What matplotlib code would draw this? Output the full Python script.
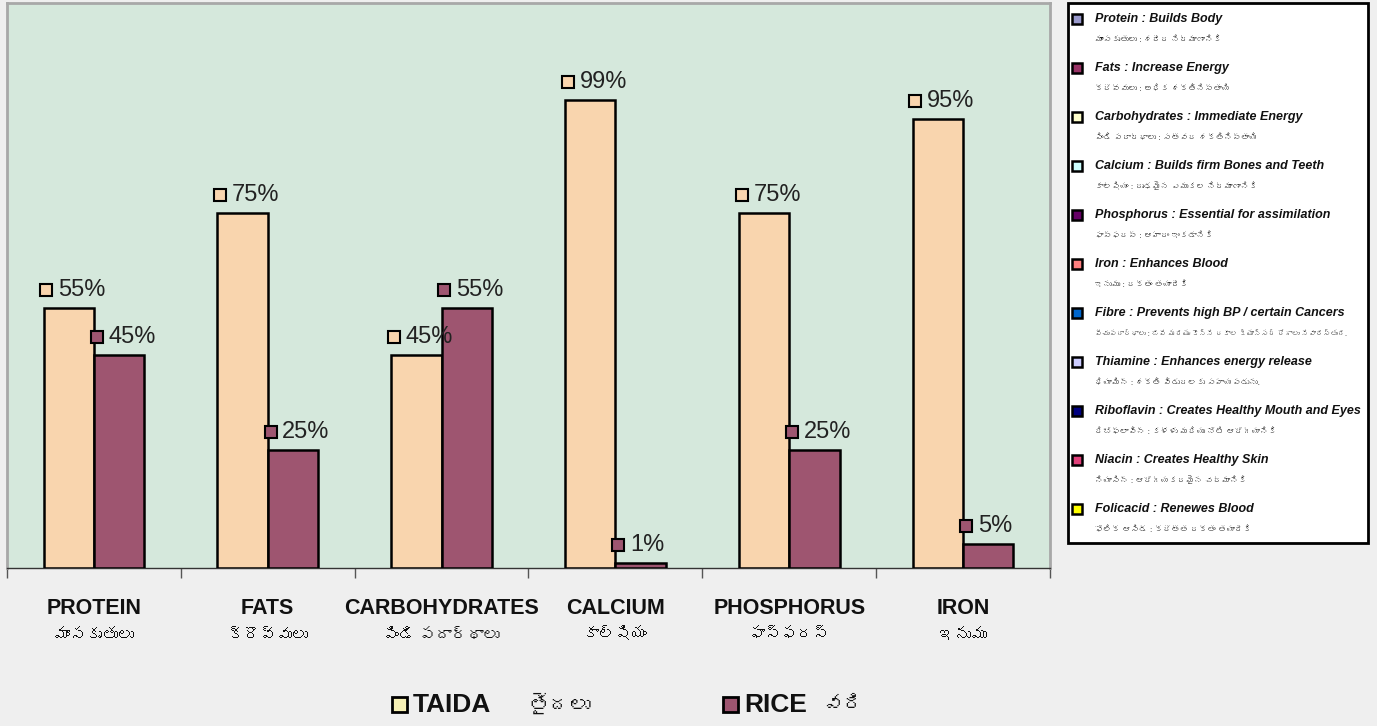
import matplotlib
matplotlib.use('Agg')
import matplotlib.pyplot as plt
from matplotlib.patches import Rectangle
from matplotlib import transforms, font_manager
from matplotlib.ft2font import FT2Font

# look for any installed family that can draw Telugu
te_family = None
for f in font_manager.fontManager.ttflist:
    try:
        if 0x0C2E in FT2Font(f.fname).get_charmap():
            te_family = f.name
            break
    except Exception:
        pass

fams = ['Liberation Sans', 'DejaVu Sans']
if te_family:
    fams.append(te_family)
plt.rcParams['font.family'] = fams

# data
categories = ['PROTEIN', 'FATS', 'CARBOHYDRATES', 'CALCIUM', 'PHOSPHORUS', 'IRON']
categories_te = ['మాంసకృతులు', 'క్రొవ్వులు', 'పిండి పదార్థాలు', 'కాల్షియం', 'ఫాస్ఫరస్', 'ఇనుము']
taida = [55, 75, 45, 99, 75, 95]
rice = [45, 25, 55, 1, 25, 5]

legend_names = ['Protein : Builds Body', 'Fats : Increase Energy',
                'Carbohydrates : Immediate Energy', 'Calcium : Builds firm Bones and Teeth',
                'Phosphorus : Essential for assimilation', 'Iron : Enhances Blood',
                'Fibre : Prevents high BP / certain Cancers', 'Thiamine : Enhances energy release',
                'Riboflavin : Creates Healthy Mouth and Eyes', 'Niacin : Creates Healthy Skin',
                'Folicacid : Renewes Blood']
legend_te = ['మాంసకృతులు : శరీర నిర్మాణానికి', 'క్రొవ్వులు : అధిక శక్తినిస్తాయి',
             'పిండి పదార్థాలు : సత్వర శక్తినిస్తాయి', 'కాల్షియం : దృఢమైన ఎముకల నిర్మాణానికి',
             'ఫాస్ఫరస్ : ఆహారం ఇంకడానికి', 'ఇనుము : రక్తం తయారీకి',
             'పీచుపదార్థాలు : బిపి మరియు కొన్ని రకాల క్యాన్సర్ రోగాలు నివారిస్తుంది.',
             'థియామిన్ : శక్తి విడుదలకు సహాయపడును.', 'రిబోఫ్లావిన్ : కళ్ళు మరియు నోటి ఆరోగ్యానికి',
             'నియాసిన్ : ఆరోగ్యకరమైన చర్మానికి', 'ఫోలిక్ ఆసిడ్ : క్రొత్త రక్తం తయారీకి']
legend_colors = ['#9999cc', '#993366', '#ffffcc', '#ccffff', '#660066', '#ff8080',
                 '#0066cc', '#ccccff', '#000080', '#e0407a', '#ffff00']

series_names = ['TAIDA', 'RICE']
series_te = ['తైదలు', 'వరి']
taida_color = '#f9d5ae'
rice_color = '#9e5570'

W, H = 1377, 726
fig = plt.figure(figsize=(W / 100, H / 100), dpi=100, facecolor='#efefef')

# main bar axes
ax = fig.add_axes([7 / W, 1 - 568 / H, (1050 - 7) / W, (568 - 3) / H])
ax.set_facecolor('#d5e8dc')
x = list(range(len(categories)))
bw = 0.29
xt = [i - bw / 2 for i in x]
xr = [i + bw / 2 for i in x]
ax.bar(xt, taida, bw, color=taida_color, edgecolor='black', linewidth=1.8, zorder=3)
ax.bar(xr, rice, bw, color=rice_color, edgecolor='black', linewidth=1.8, zorder=3)
ax.set_xlim(-0.5, len(categories) - 0.5)
ax.set_ylim(0, 119.5)
ax.set_yticks([])
ax.set_xticks([i - 0.5 for i in range(len(categories) + 1)])
ax.set_xticklabels([])
ax.tick_params(axis='x', direction='out', length=7, width=1, color='#555555')
for s in ['top', 'left', 'right']:
    ax.spines[s].set_color('#a8a8a8')
    ax.spines[s].set_linewidth(2)
ax.spines['bottom'].set_color('#333333')
ax.spines['bottom'].set_linewidth(1)

# value labels: little square plus percentage
for xs, vals, col in [(xt, taida, taida_color), (xr, rice, rice_color)]:
    for xi, v in zip(xs, vals):
        left = xi - bw / 2
        mtr = transforms.offset_copy(ax.transData, fig=fig, x=2, y=13, units='points')
        ax.plot([left], [v], marker='s', markersize=8, markerfacecolor=col,
                markeredgecolor='black', markeredgewidth=1.5, transform=mtr,
                clip_on=False, zorder=5)
        ax.annotate('%d%%' % v, xy=(left, v), xytext=(10.5, 13), textcoords='offset points',
                    fontsize=17, va='center', ha='left', color='#222222',
                    annotation_clip=False, zorder=5)

# category labels under the axis
tr = transforms.blended_transform_factory(ax.transData, fig.transFigure)
for i, (c, t) in enumerate(zip(categories, categories_te)):
    ax.text(i, 1 - 609 / H, c, transform=tr, ha='center', va='center',
            fontsize=15.5, fontweight='bold', color='#111111')
    ax.text(i, 1 - 635 / H, t, transform=tr, ha='center', va='center',
            fontsize=11.5, color='#111111')

# overlay axes in pixel units for legends
ov = fig.add_axes([0, 0, 1, 1], facecolor='none')
ov.set_xlim(0, W)
ov.set_ylim(H, 0)
ov.axis('off')

# side legend box
ov.add_patch(Rectangle((1068, 3), 300, 540, facecolor='white', edgecolor='black', linewidth=2))
for k, (nm, te, col) in enumerate(zip(legend_names, legend_te, legend_colors)):
    y = 19 + k * 49
    ov.add_patch(Rectangle((1072, y - 5), 10, 10, facecolor=col, edgecolor='black', linewidth=1.8))
    ov.text(1095, y, nm, fontsize=9, fontweight='bold', style='italic',
            va='center', ha='left', color='#111111')
    t = ov.text(1095, y + 21, te, fontsize=6, va='center', ha='left', color='#222222')
    if len(te) > 50:
        t.set_fontsize(5.2)

# bottom legend
for (nm, te, col, xs, xte) in [(series_names[0], series_te[0], '#f6f0b4', 392, 528),
                               (series_names[1], series_te[1], rice_color, 723, 822)]:
    ov.add_patch(Rectangle((xs, 697), 15, 15, facecolor=col, edgecolor='black', linewidth=2))
    ov.text(xs + 21, 705, nm, fontsize=19, fontweight='bold', va='center', ha='left',
            color='#111111')
    ov.text(xte, 705, te, fontsize=15, fontweight='bold', va='center', ha='left',
            color='#111111')

fig.savefig('out.png', dpi=100, facecolor=fig.get_facecolor())
